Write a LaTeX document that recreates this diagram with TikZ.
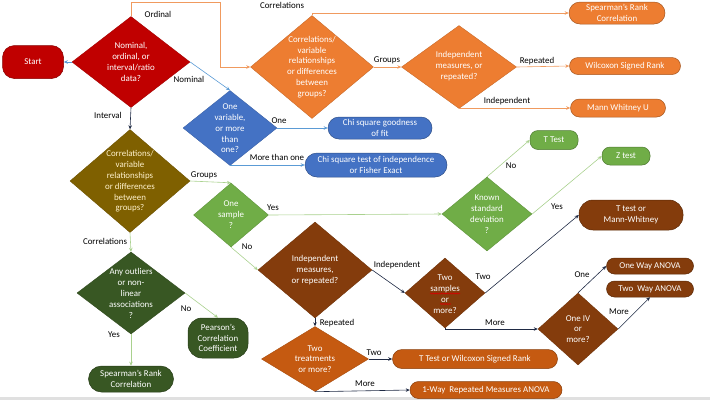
\documentclass[tikz,border=0pt]{standalone}
\usepackage{fontspec}
\setmainfont{Carlito}
\usetikzlibrary{shapes.geometric,shapes.misc,arrows.meta,decorations.pathmorphing}
\definecolor{cRed}{HTML}{C00000}
\definecolor{cOrange}{HTML}{ED7D31}
\definecolor{cBlue}{HTML}{4472C4}
\definecolor{cOlive}{HTML}{7F6000}
\definecolor{cGreen}{HTML}{70AD47}
\definecolor{cDkGreen}{HTML}{385723}
\definecolor{cBrown}{HTML}{843C0C}
\definecolor{cRust}{HTML}{C55A11}
\definecolor{cCream}{HTML}{FFF2CC}
\definecolor{lnOrange}{HTML}{F09A5E}
\definecolor{lnBlue}{HTML}{5B9BD5}
\definecolor{lnGreen}{HTML}{A9D18E}
\definecolor{lnBlack}{HTML}{1F2A44}
\begin{document}
\begin{tikzpicture}[x=1pt,y=-1pt,
  dmd/.style={diamond, inner sep=0pt, fill=#1, draw=#1!85!black, line width=0.4pt},
  txt/.style={text=white, align=center, inner sep=0pt, font=\fontsize{8.9}{10.8}\selectfont},
  pill/.style={rounded rectangle, inner sep=0pt, fill=#1, draw=#1!70!black, line width=0.5pt, text=white, align=center, font=\fontsize{8.9}{10.8}\selectfont},
  rbox/.style={rectangle, rounded corners=13pt, inner sep=0pt, fill=#1, draw=#1!70!black, line width=0.5pt, text=white, align=center, font=\fontsize{8.9}{10.8}\selectfont},
  lbl/.style={inner sep=0pt, text=black, font=\fontsize{8.9}{10.8}\selectfont},
  conn/.style={draw=#1, line width=0.6pt, -{Stealth[length=4pt,width=3.5pt]}},
  squig/.style={draw=red!85!black, line width=0.55pt, decorate, decoration={snake, amplitude=0.6pt, segment length=2.2pt}}
]
\useasboundingbox (0,0) rectangle (710,400);
\fill[black!12] (0,397) rectangle (710,400);

% ---- nodes ----
\node[rbox=cRed, rounded corners=12pt, minimum width=61pt, minimum height=33pt] (start) at (33,62) {Start};

\node[dmd=cRed, minimum width=118pt, minimum height=91pt] (d1) at (131,62) {};
\node[txt] (d1t) at (131,62) {Nominal,\\ordinal, or\\interval/ratio\\data?};

\node[dmd=cOrange, minimum width=123pt, minimum height=103pt] (d2) at (312,67) {};
\node[txt] (d2t) at (312,67) {Correlations/\\variable\\relationships\\or differences\\between\\groups?};

\node[pill=cOrange, minimum width=96pt, minimum height=22pt] (sp1) at (617,13) {Spearman’s Rank\\Correlation};

\node[dmd=cOrange, minimum width=115pt, minimum height=83pt] (d3) at (459,67) {};
\node[txt] (d3t) at (459,66) {Independent\\measures, or\\repeated?};

\node[pill=cOrange, minimum width=111pt, minimum height=17pt] (wil) at (625,66) {Wilcoxon Signed Rank};
\node[pill=cOrange, minimum width=95pt, minimum height=18pt] (mw) at (618,108) {Mann Whitney U};

\node[dmd=cBlue, minimum width=94pt, minimum height=75pt] (d4) at (230,128) {};
\node[txt] (d4t) at (230,128.5) {One\\variable,\\or more\\than\\one?};

\node[pill=cBlue, minimum width=104pt, minimum height=22pt] (chi1) at (380,128) {Chi square goodness\\of fit};
\node[pill=cBlue, minimum width=142pt, minimum height=24pt] (chi2) at (376,165) {Chi square test of independence\\or Fisher Exact};

\node[dmd=cOlive, minimum width=120pt, minimum height=103pt] (d5) at (130,181) {};
\node[txt, text=cCream] (d5t) at (130,181.5) {Correlations/\\variable\\relationships\\or differences\\between\\groups?};

\node[dmd=cGreen, minimum width=75pt, minimum height=64pt] (d6) at (231,215) {};
\node[txt] (d6t) at (231,214.5) {One\\sample\\?};

\node[dmd=cGreen, minimum width=90pt, minimum height=74pt] (d7) at (487,214) {};
\node[txt] (d7t) at (487,214) {Known\\standard\\deviation\\?};

\node[rbox=cGreen, rounded corners=8pt, minimum width=48pt, minimum height=19pt] (tt) at (554,140) {T Test};
\node[rbox=cGreen, rounded corners=8pt, minimum width=48pt, minimum height=18pt] (zt) at (626,156) {Z test};

\node[dmd=cBrown, minimum width=114pt, minimum height=96pt] (d8) at (315,270) {};
\node[txt] (d8t) at (315,270) {Independent\\measures,\\or repeated?};

\node[dmd=cBrown, minimum width=80pt, minimum height=70pt] (d9) at (445,293) {};
\node[txt] (d9t) at (445,294) {Two\\samples\\or\\more?};
\draw[squig] (430,293.5) -- (460,293.5);
\draw[squig] (440,304) -- (451,304);

\node[rbox=cBrown, rounded corners=14pt, minimum width=104pt, minimum height=30pt] (tmw) at (631,215) {T test or\\Mann-Whitney};

\node[dmd=cBrown, minimum width=80pt, minimum height=72pt] (d10) at (578,329) {};
\node[txt] (d10t) at (578,329) {One IV\\or\\more?};

\node[pill=cBrown, minimum width=87pt, minimum height=16pt] (owa) at (650,266) {One Way ANOVA};
\node[pill=cBrown, minimum width=87pt, minimum height=16pt] (twa) at (650,289) {Two\ \ Way ANOVA};

\node[dmd=cRust, minimum width=107pt, minimum height=65pt] (d11) at (315,359) {};
\node[txt] (d11t) at (315,359) {Two\\treatments\\or more?};

\node[pill=cRust, minimum width=165pt, minimum height=19pt] (tw) at (475,359) {T Test or Wilcoxon Signed Rank};
\node[pill=cRust, minimum width=152pt, minimum height=17pt] (rm) at (486,390) {1-Way\ \ Repeated Measures ANOVA};

\node[dmd=cDkGreen, minimum width=108pt, minimum height=82pt] (d12) at (131,293) {};
\node[txt] (d12t) at (131,293.5) {Any outliers\\or non-\\linear\\associations\\?};

\node[rbox=cDkGreen, rounded corners=14pt, minimum width=60pt, minimum height=40pt] (pear) at (218,338) {Pearson’s\\Correlation\\Coefficient};
\node[pill=cDkGreen, minimum width=85pt, minimum height=26pt] (sp2) at (131,379) {Spearman’s Rank\\Correlation};

% ---- connectors ----
\draw[conn=lnBlue] (d1.west) -- (start.east);
\draw[conn=lnOrange] (d1.north) -- ++(0,-14) -| (220,67) -- (d2.west);
\draw[conn=lnOrange] (d2.north) |- (sp1.west);
\draw[conn=lnOrange] (d2.east) -- (d3.west);
\draw[conn=lnOrange] (d3.east) -- (wil.west);
\draw[conn=lnOrange] (d3.south) |- (mw.west);
\draw[conn=lnBlue] (d1.east) -- (d4.north);
\draw[conn=lnBlue] (d4.east) -- (chi1.west);
\draw[conn=lnBlue] (d4.south) |- (chi2.west);
\draw[conn=lnBlack] (d1.south) -- (d5.north);
\draw[conn=lnGreen] (d5.east) -- (d6.north);
\draw[conn=lnGreen] (d6.east) -- (d7.west);
\draw[conn=lnGreen] (d7.north) -- (tt.west);
\draw[conn=lnGreen] (d7.east) -- (zt.west);
\draw[conn=lnGreen] (d6.south) -- (d8.west);
\draw[conn=lnBlack] (d8.east) -- (d9.west);
\draw[conn=lnBlack] (d9.east) -- (tmw.west);
\draw[conn=lnBlack] (d9.south) |- (d10.west);
\draw[conn=lnBlack] (d10.north) -- (owa.west);
\draw[conn=lnBlack] (d10.east) -- (twa.south);
\draw[conn=lnBlack] (d8.south) -- (d11.north);
\draw[conn=lnBlack] (d11.east) -- (tw.west);
\draw[conn=lnBlack] (d11.south) -- (rm.west);
\draw[conn=lnGreen] (d5.south) -- (d12.north);
\draw[conn=lnGreen] (d12.east) -- (pear.north);
\draw[conn=lnGreen] (d12.south) -- (sp2.north);

% ---- labels ----
\node[lbl] (l1) at (158,14) {Ordinal};
\node[lbl] (l2) at (282,5) {Correlations};
\node[lbl] (l3) at (387,60) {Groups};
\node[lbl] (l4) at (537,61) {Repeated};
\node[lbl] (l5) at (507,101) {Independent};
\node[lbl] (l6) at (189,79) {Nominal};
\node[lbl] (l7) at (279,121) {One};
\node[lbl] (l8) at (277,157) {More than one};
\node[lbl] (l9) at (108,115) {Interval};
\node[lbl] (l10) at (204,175) {Groups};
\node[lbl] (l11) at (273,208) {Yes};
\node[lbl] (l12) at (511,166) {No};
\node[lbl] (l13) at (557,207) {Yes};
\node[lbl] (l14) at (247,247) {No};
\node[lbl] (l15) at (397,265) {Independent};
\node[lbl] (l16) at (483,277) {Two};
\node[lbl] (l17) at (495,323) {More};
\node[lbl] (l18) at (582,275) {One};
\node[lbl] (l19) at (619,312) {More};
\node[lbl] (l20) at (337,323) {Repeated};
\node[lbl] (l21) at (374,353) {Two};
\node[lbl] (l22) at (365,384) {More};
\node[lbl] (l23) at (105,241) {Correlations};
\node[lbl] (l24) at (186,309) {No};
\node[lbl] (l25) at (114,335) {Yes};
\end{tikzpicture}
\end{document}
